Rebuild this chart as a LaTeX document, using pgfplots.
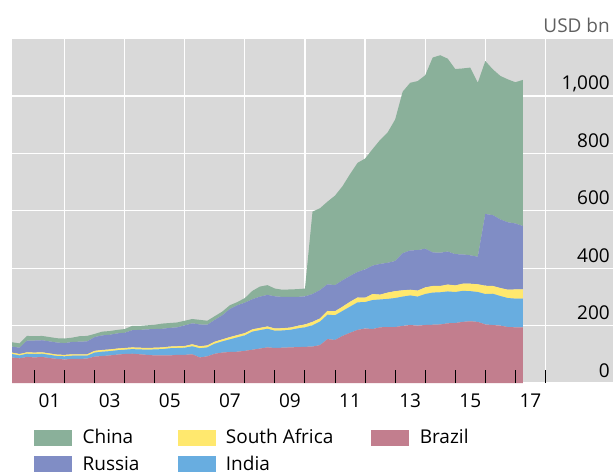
\documentclass[border=0pt]{standalone}
\usepackage{pgfplots}
\pgfplotsset{compat=1.18}
\usepackage{pgfplotstable}
\usepackage{fontspec}
\setmainfont{Open Sans}

\definecolor{chinac}{HTML}{8AB09A}
\definecolor{russiac}{HTML}{808DC5}
\definecolor{safc}{HTML}{FFE86E}
\definecolor{indiac}{HTML}{68ADE0}
\definecolor{brazilc}{HTML}{C27E8E}
\definecolor{bgc}{HTML}{D9D9D9}
\definecolor{unitc}{HTML}{606060}

% quarterly reserves, USD bn
\pgfplotstableread{
t br in sa ru ch
2000.25 89 12 5 21 15
2000.50 86 10 5 22 15
2000.75 91 11 5 41 16
2001.00 89 12 5 42 15
2001.25 91 11 5 42 15
2001.50 87 11 5 42 15
2001.75 84 10 5 42 15
2002.00 82 11 5 41 16
2002.25 84 11 5 43 15
2002.50 84 11 5 44 19
2002.75 85 10 5 45 19
2003.00 92 14 6 48 11
2003.25 94 15 6 51 13
2003.50 96 15 6 51 13
2003.75 99 15 6 53 12
2004.00 101 15 6 53 13
2004.25 102 16 6 60 15
2004.50 100 17 6 62 14
2004.75 98 18 6 65 14
2005.00 96 21 6 65 15
2005.25 96 22 6 65 18
2005.50 96 25 6 65 17
2005.75 98 24 6 66 17
2006.00 98 25 6 72 16
2006.25 100 28 7 73 15
2006.50 89 32 7 76 16
2006.75 93 31 7 72 14
2007.00 102 35 7 76 13
2007.25 106 39 7 84 13
2007.50 108 44 8 98 13
2007.75 109 50 8 104 11
2008.00 112 54 8 106 16
2008.25 116 63 8 105 29
2008.50 120 64 8 109 35
2008.75 124 65 8 110 34
2009.00 122 60 8 112 27
2009.25 123 60 8 109 25
2009.50 124 61 8 107 26
2009.75 125 65 9 101 27
2010.00 126 68 10 98 27
2010.25 127 74 12 97 287
2010.50 132 82 11 99 285
2010.75 153 85 13 93 288
2011.00 150 86 14 91 312
2011.25 164 87 15 92 328
2011.50 175 91 17 90 355
2011.75 185 96 17 89 380
2012.00 190 92 15 99 386
2012.25 188 101 21 99 406
2012.50 194 97 17 107 432
2012.75 195 98 22 104 454
2013.00 195 101 24 105 493
2013.25 199 102 22 129 563
2013.50 202 103 20 137 584
2013.75 200 101 21 141 589
2014.00 202 108 23 135 604
2014.25 203 112 23 117 679
2014.50 204 112 22 116 688
2014.75 208 111 24 115 672
2015.00 209 108 23 109 645
2015.25 213 108 25 102 648
2015.50 215 105 26 99 654
2015.75 213 104 27 96 606
2016.00 204 106 29 250 533
2016.25 202 109 27 247 508
2016.50 200 103 28 239 500
2016.75 195 101 29 235 498
2017.00 194 100 32 230 492
2017.25 194 100 32 221 509
}\reserves

\pgfplotsset{patch/.style={legend image code/.code={\fill[#1] (0bp,-7.5bp) rectangle (37bp,7.5bp);}}}

\begin{document}
\begin{tikzpicture}[font=\fontsize{19bp}{23bp}\selectfont]
\begin{axis}[width=601bp, height=344.4bp, scale only axis,
  xmin=2000.25, xmax=2020.25, ymin=0, ymax=1200,
  axis background/.style={fill=bgc},
  axis line style={draw=none},
  xtick={2002,2004,...,2018}, xticklabels={},
  ytick={0,200,...,1200}, yticklabels={0,200,400,600,800,{1,000},{}},
  yticklabel pos=right,
  yticklabel style={anchor=base east, inner sep=0pt, xshift=-3bp, yshift=6bp},
  tick label style={font=\fontsize{19bp}{23bp}\selectfont},
  major tick length=0pt,
  grid=major, major grid style={white, line width=1.2bp},
  stack plots=y, no markers,
  legend columns=3, legend cell align=left,
  legend style={draw=none, fill=none, at={(rel axis cs:0,0)}, anchor=north west,
    xshift=22bp, yshift=-46bp, inner sep=0pt, row sep=11bp,
    font=\fontsize{19bp}{23bp}\selectfont,
    nodes={inner sep=0pt},
    /tikz/every odd column/.append style={column sep=11bp},
    /tikz/every even column/.append style={column sep=38bp}},
]
\addplot[fill=brazilc, draw=none, forget plot] table[x=t, y=br]{\reserves} \closedcycle;
\addplot[fill=indiac, draw=none, forget plot] table[x=t, y=in]{\reserves} \closedcycle;
\addplot[fill=safc, draw=none, forget plot] table[x=t, y=sa]{\reserves} \closedcycle;
\addplot[fill=russiac, draw=none, forget plot] table[x=t, y=ru]{\reserves} \closedcycle;
\addplot[fill=chinac, draw=none, forget plot] table[x=t, y=ch]{\reserves} \closedcycle;

\addlegendimage{patch=chinac}\addlegendentry{China}
\addlegendimage{patch=safc}\addlegendentry{South Africa}
\addlegendimage{patch=brazilc}\addlegendentry{Brazil}
\addlegendimage{patch=russiac}\addlegendentry{Russia}
\addlegendimage{patch=indiac}\addlegendentry{India}

\coordinate (ll) at (rel axis cs:0,0);
\coordinate (ur) at (rel axis cs:1,1);
\end{axis}

\begin{axis}[width=601bp, height=344.4bp, scale only axis,
  xmin=2000.25, xmax=2020.25, ymin=0, ymax=1200,
  axis line style={draw=none}, ytick=\empty,
  xtick={2001,2002,...,2018}, xticklabels={},
  tick align=inside, xtick pos=bottom,
  major tick length=13bp, tick style={black, line width=1bp},
  extra x ticks={2001.5,2003.5,...,2017.5},
  extra x tick labels={01,03,05,07,09,11,13,15,17},
  extra x tick style={major tick length=0pt},
  xticklabel style={anchor=north, inner sep=0pt, yshift=-10.5bp,
    font=\fontsize{19bp}{23bp}\selectfont},
]
\end{axis}
\node[anchor=base east, inner sep=0pt, text=unitc] at ([xshift=-3bp, yshift=6.3bp]ur) {USD bn};
\pgfresetboundingbox
\useasboundingbox ([xshift=-12bp, yshift=-91bp]ll) rectangle ([yshift=38.6bp]ur);
\end{tikzpicture}
\end{document}
